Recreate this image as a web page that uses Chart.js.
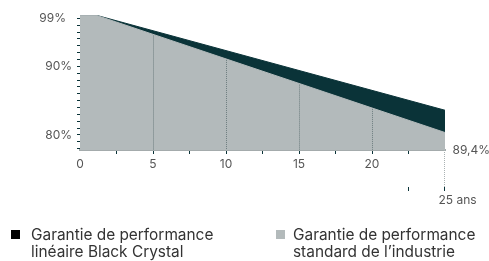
<!DOCTYPE html>
<html><head><meta charset="utf-8">
<script src="https://cdn.jsdelivr.net/npm/chart.js@4"></script>
<style>
html,body{margin:0;padding:0;background:#fff;}
#wrap{position:relative;width:489px;height:261px;overflow:hidden;}
canvas{position:absolute;left:0;top:0;}
.leg{position:absolute;font-family:Inter,'Liberation Sans',sans-serif;font-size:15.4px;line-height:17px;color:#333;white-space:nowrap;}
.sw{position:absolute;width:9px;height:9px;}
</style></head>
<body><div id="wrap"><canvas id="c" width="489" height="261"></canvas>
<div class="sw" style="left:11px;top:230px;background:#000"></div>
<div class="leg" id="l1" style="left:31px;top:226px"></div>
<div class="sw" style="left:276px;top:230px;background:#b3babb"></div>
<div class="leg" id="l2" style="left:293px;top:226px"></div>
</div>
<script>
// ---- data (visual scale units) ----
const blackX = [0, 1.1, 25];
const blackY = [97.47, 97.47, 83.6];
const grayX = [0, 1.1, 25];
const grayY = [97.47, 97.47, 80.35];
const xTickLabels = {0:'0', 5:'5', 10:'10', 15:'15', 20:'20'};
const yTickLabels = {97:'99%\u2002', 90:'90%', 80:'80%'};
const gridYears = [5, 10, 15, 20];
const lowerTickYears = [22.5, 25];
const endYear = 25;
const endYearLabel = '25 ans';
const endValueLabel = '89,4%';
const legendBlack = ['Garantie de performance', 'linéaire Black Crystal'];
const legendGray = ['Garantie de performance', 'standard de l\u2019industrie'];

document.getElementById('l1').innerHTML = legendBlack.join('<br>');
document.getElementById('l2').innerHTML = legendGray.join('<br>');

const DARK = '#0a3338', GRAY = '#b3babb', TXT = '#555';
Chart.defaults.font.family = "Inter, 'Liberation Sans', sans-serif";
Chart.defaults.font.size = 12;

const pts = (xs, ys) => xs.map((x, i) => ({x, y: ys[i]}));

const extras = {
  id: 'extras',
  afterDatasetsDraw(chart) {
    const {ctx, scales: {x}, chartArea} = chart;
    const line = chart.getDatasetMeta(0).dataset;
    ctx.save();
    ctx.strokeStyle = '#6d7d7f';
    ctx.lineWidth = 1;
    ctx.setLineDash([1, 1]);
    gridYears.forEach(v => {
      const px = Math.round(x.getPixelForValue(v)) + 0.5;
      const pt = line.interpolate ? line.interpolate({x: px}, 'x') : null;
      const top = pt ? pt.y + 1 : chartArea.top;
      ctx.beginPath(); ctx.moveTo(px, top); ctx.lineTo(px, chartArea.bottom); ctx.stroke();
    });
    // lower annotation
    const ex = Math.round(x.getPixelForValue(endYear)) - 0.5;
    ctx.strokeStyle = '#aab2b3';
    ctx.beginPath(); ctx.moveTo(ex, chartArea.bottom); ctx.lineTo(ex, chartArea.bottom + 38); ctx.stroke();
    ctx.setLineDash([]);
    ctx.strokeStyle = DARK;
    lowerTickYears.forEach(v => {
      const px = Math.round(x.getPixelForValue(v)) - 0.5;
      ctx.beginPath(); ctx.moveTo(px, chartArea.bottom + 37); ctx.lineTo(px, chartArea.bottom + 41); ctx.stroke();
    });
    ctx.fillStyle = TXT;
    ctx.font = "12px Inter, 'Liberation Sans', sans-serif";
    ctx.textBaseline = 'middle';
    ctx.textAlign = 'left';
    ctx.fillText(endYearLabel, ex - 6, chartArea.bottom + 50);
    ctx.fillText(endValueLabel, ex + 8, chartArea.bottom);
    ctx.restore();
  }
};

new Chart(document.getElementById('c'), {
  type: 'line',
  data: {
    datasets: [
      {label: legendGray.join(' '), data: pts(grayX, grayY), fill: 'start', backgroundColor: GRAY,
       borderColor: GRAY, borderWidth: 1, pointRadius: 0, tension: 0},
      {label: legendBlack.join(' '), data: pts(blackX, blackY), fill: 'start', backgroundColor: DARK,
       borderColor: DARK, borderWidth: 1, pointRadius: 0, tension: 0}
    ]
  },
  options: {
    responsive: false, animation: false,
    layout: {padding: {left: 0, right: 44, top: 15, bottom: 81}},
    plugins: {legend: {display: false}, tooltip: {enabled: false}},
    scales: {
      x: {type: 'linear', min: 0, max: 25,
        border: {display: true, color: '#a4abac', width: 2},
        grid: {drawOnChartArea: false, tickLength: 4,
               color: c => (c.tick && (c.tick.value === 0 || c.tick.value === 25)) ? 'rgba(0,0,0,0)' : DARK},
        ticks: {stepSize: 2.5, autoSkip: false, maxRotation: 0, padding: 3, color: TXT,
                callback: v => xTickLabels[v] ?? ''},
        afterFit: s => { s.height = 30; }
      },
      y: {min: 77.8, max: 97.5,
        border: {display: false},
        grid: {drawOnChartArea: false, tickLength: 3, color: DARK},
        ticks: {stepSize: 1, includeBounds: false, autoSkip: false, padding: 5, color: TXT,
                callback: v => yTickLabels[v] ?? ''},
        afterFit: s => { s.width = 80; }
      }
    }
  },
  plugins: [extras]
});
</script>
</body></html>
